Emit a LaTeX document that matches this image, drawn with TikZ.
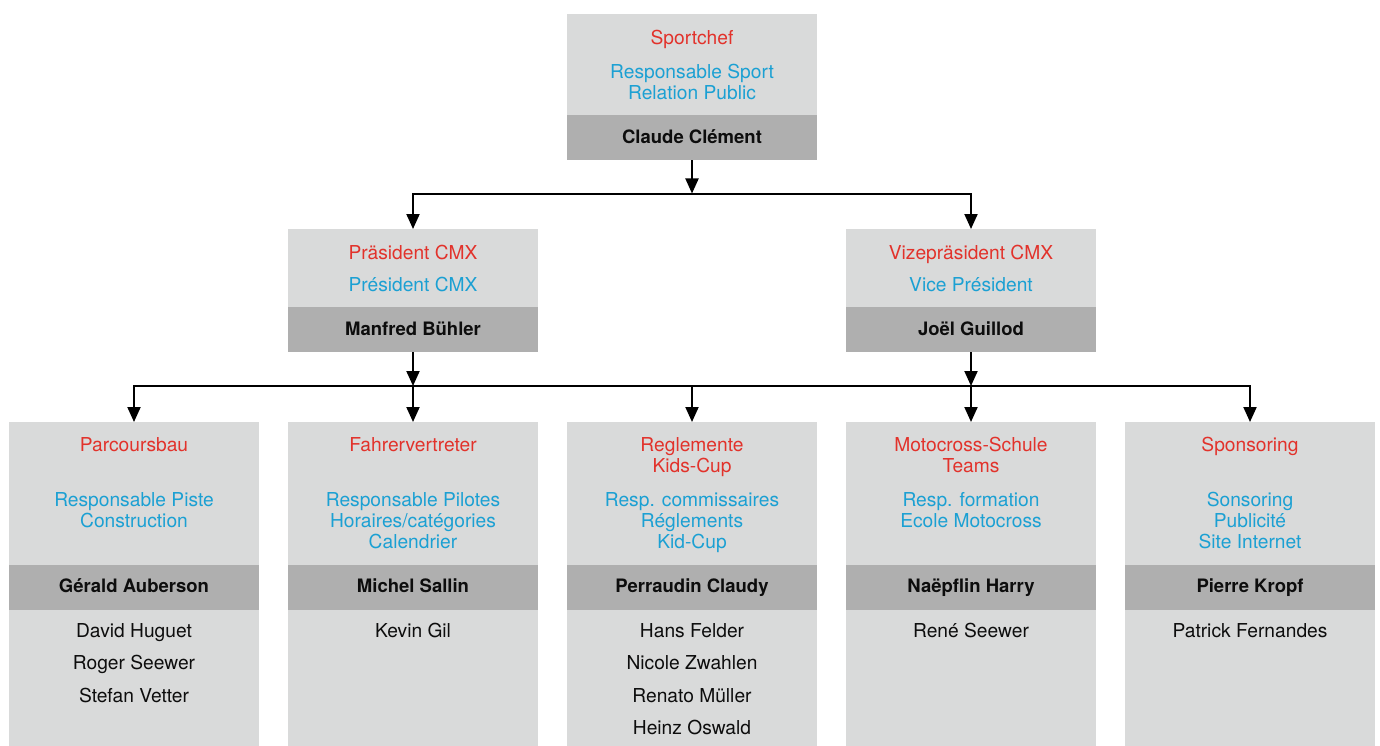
\documentclass[tikz,border=0pt]{standalone}
\usepackage{fontspec}
\setmainfont{TeX Gyre Heros}
\usetikzlibrary{arrows.meta}
\definecolor{cred}{HTML}{E2322B}
\definecolor{cblue}{HTML}{1BA0D3}
\definecolor{clight}{HTML}{D9DADA}
\definecolor{cdark}{HTML}{AFAFAF}
\newcommand\txtlines[6]{%
  \foreach \t [count=\k] in {#6} {\node[#1, anchor=base] (#2-\k) at (#3, {#4+(\k-1)*#5}) {\t};}}
\tikzset{
  lightbox/.style={fill=clight, draw=none, inner sep=0pt, minimum width=250pt, anchor=north},
  darkbox/.style={fill=cdark, draw=none, inner sep=0pt, minimum width=250pt, minimum height=45pt, anchor=north},
  redtxt/.style={inner sep=0pt, text=cred, font=\fontsize{19.2}{22}\selectfont},
  bluetxt/.style={inner sep=0pt, text=cblue, font=\fontsize{19.2}{22}\selectfont},
  nametxt/.style={inner sep=0pt, text=black!95, font=\fontsize{18.5}{22}\selectfont\bfseries},
  plaintxt/.style={inner sep=0pt, text=black!95, font=\fontsize{19.2}{22}\selectfont},
  arr/.style={line width=2pt, -{Triangle[length=15pt,width=13pt]}},
  ln/.style={line width=2pt}
}
\begin{document}
\begin{tikzpicture}[x=1pt,y=-1pt]
\useasboundingbox (0,0) rectangle (1380,746);
% top box
\node[lightbox, minimum height=101pt] (topL) at (692,14) {};
\node[darkbox] (topD) at (692,115) {};
\txtlines{redtxt}{topr}{692}{45}{21.3}{Sportchef}
\txtlines{bluetxt}{topb}{692}{78.3}{21.2}{Responsable Sport,Relation Public}
\txtlines{nametxt}{topn}{692}{143.3}{21.3}{Claude Clément}
% middle boxes
\node[lightbox, minimum height=78pt] (m1L) at (413,229) {};
\node[darkbox] (m1D) at (413,307) {};
\node[lightbox, minimum height=78pt] (m2L) at (971,229) {};
\node[darkbox] (m2D) at (971,307) {};
\txtlines{redtxt}{m1r}{413}{259.3}{21.3}{Präsident CMX}
\txtlines{bluetxt}{m1b}{413}{291.7}{21.3}{Président CMX}
\txtlines{nametxt}{m1n}{413}{335.7}{21.3}{Manfred Bühler}
\txtlines{redtxt}{m2r}{971}{259.3}{21.3}{Vizepräsident CMX}
\txtlines{bluetxt}{m2b}{971}{291.7}{21.3}{Vice Président}
\txtlines{nametxt}{m2n}{971}{335.7}{21.3}{Joël Guillod}
% bottom boxes
\foreach \c/\n in {134/1,413/2,692/3,971/4,1250/5}{
  \node[lightbox, minimum height=143pt] (b\n L) at (\c,422) {};
  \node[darkbox] (b\n D) at (\c,565) {};
  \node[lightbox, minimum height=136pt] (b\n P) at (\c,610) {};
}
% box 1
\txtlines{redtxt}{b1r}{134}{451}{21.4}{Parcoursbau}
\txtlines{bluetxt}{b1b}{134}{506.5}{21.2}{Responsable Piste,Construction}
\txtlines{nametxt}{b1n}{134}{592.8}{21.3}{Gérald Auberson}
\txtlines{plaintxt}{b1p}{134}{637.3}{32.4}{David Huguet,Roger Seewer,Stefan Vetter}
% box 2
\txtlines{redtxt}{b2r}{413}{451}{21.4}{Fahrervertreter}
\txtlines{bluetxt}{b2b}{413}{506.5}{21.2}{Responsable Pilotes,{Horaires/catégories},Calendrier}
\txtlines{nametxt}{b2n}{413}{592.8}{21.3}{Michel Sallin}
\txtlines{plaintxt}{b2p}{413}{637.3}{32.4}{Kevin Gil}
% box 3
\txtlines{redtxt}{b3r}{692}{451}{21.4}{Reglemente,Kids-Cup}
\txtlines{bluetxt}{b3b}{692}{506.5}{21.2}{Resp. commissaires,Réglements,Kid-Cup}
\txtlines{nametxt}{b3n}{692}{592.8}{21.3}{Perraudin Claudy}
\txtlines{plaintxt}{b3p}{692}{637.3}{32.4}{Hans Felder,Nicole Zwahlen,Renato Müller,Heinz Oswald}
% box 4
\txtlines{redtxt}{b4r}{971}{451}{21.4}{Motocross-Schule,Teams}
\txtlines{bluetxt}{b4b}{971}{506.5}{21.2}{Resp. formation,Ecole Motocross}
\txtlines{nametxt}{b4n}{971}{592.8}{21.3}{Naëpflin Harry}
\txtlines{plaintxt}{b4p}{971}{637.3}{32.4}{René Seewer}
% box 5
\txtlines{redtxt}{b5r}{1250}{451}{21.4}{Sponsoring}
\txtlines{bluetxt}{b5b}{1250}{506.5}{21.2}{Sonsoring,Publicité,Site Internet}
\txtlines{nametxt}{b5n}{1250}{592.8}{21.3}{Pierre Kropf}
\txtlines{plaintxt}{b5p}{1250}{637.3}{32.4}{Patrick Fernandes}
% connectors
\coordinate (j0) at (692,193.5);
\coordinate (ja) at (413,386);
\coordinate (jm) at (692,386);
\coordinate (jb) at (971,386);
\draw[arr] (topD.south) -- (j0);
\draw[arr] (j0) -| (m1L.north);
\draw[arr] (j0) -| (m2L.north);
\draw[arr] (m1D.south) -- (ja);
\draw[arr] (m2D.south) -- (jb);
\draw[ln] (ja) -- (jb);
\draw[arr] (ja) -| (b1L.north);
\draw[arr] (ja) -- (b2L.north);
\draw[arr] (jm) -- (b3L.north);
\draw[arr] (jb) -- (b4L.north);
\draw[arr] (jb) -| (b5L.north);
\end{tikzpicture}
\end{document}
